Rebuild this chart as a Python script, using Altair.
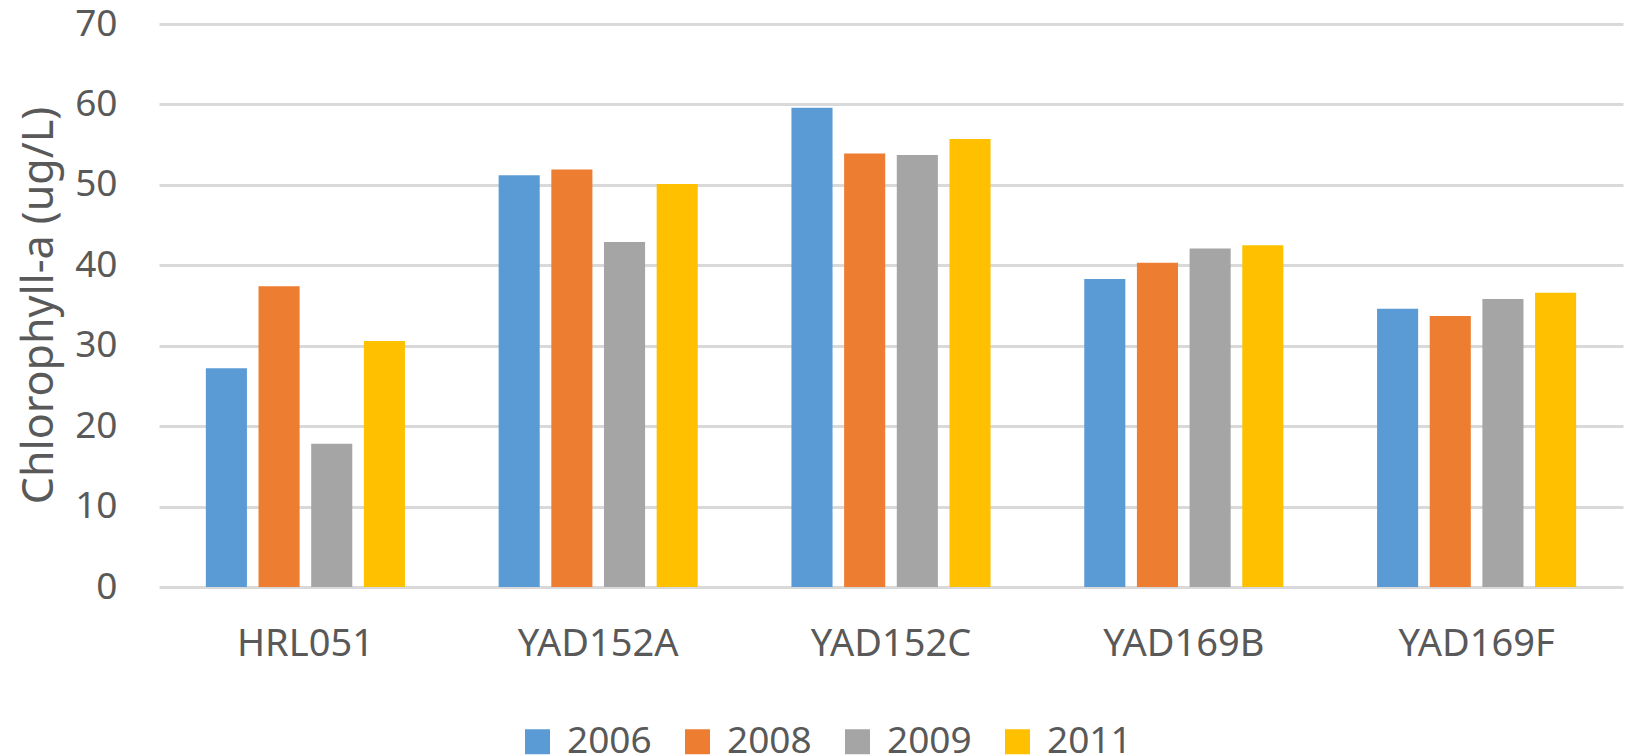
import altair as alt
import pandas as pd

sites = ["HRL051", "YAD152A", "YAD152C", "YAD169B", "YAD169F"]
years = ["2006", "2008", "2009", "2011"]
v2006 = [27.2, 51.2, 59.6, 38.3, 34.6]
v2008 = [37.4, 51.9, 53.9, 40.3, 33.7]
v2009 = [17.8, 42.9, 53.7, 42.1, 35.8]
v2011 = [30.6, 50.1, 55.7, 42.5, 36.6]
colors = ["#5B9BD5", "#ED7D31", "#A5A5A5", "#FFC000"]

rows = []
for yr, vals in zip(years, [v2006, v2008, v2009, v2011]):
    for s, v in zip(sites, vals):
        rows.append({"site": s, "year": yr, "value": v})
df = pd.DataFrame(rows)

FONT = "Noto Sans"
TXT = "#595959"

chart = alt.Chart(df).mark_bar().encode(
    x=alt.X("site:N", sort=sites, title=None,
            scale=alt.Scale(paddingInner=0.32, paddingOuter=0.16),
            axis=alt.Axis(labelAngle=0, labelFontSize=38, labelColor=TXT, labelFont=FONT,
                          domain=False, ticks=False, tickSize=0, labelPadding=38, grid=False)),
    xOffset=alt.XOffset("year:N", sort=years,
                        scale=alt.Scale(paddingInner=0.22, paddingOuter=0)),
    y=alt.Y("value:Q", title="Chlorophyll-a (ug/L)",
            scale=alt.Scale(domain=[0, 70]),
            axis=alt.Axis(values=[0, 10, 20, 30, 40, 50, 60, 70], labelFontSize=37,
                          labelColor=TXT, labelFont=FONT, labelPadding=42,
                          domain=False, ticks=False, tickSize=0,
                          gridColor="#D9D9D9", gridWidth=3,
                          titleFontSize=43, titleFont=FONT, titleColor=TXT,
                          titleFontWeight="normal", titleX=-107, titleY=281,
                          titleAngle=-90, titleBaseline="alphabetic", titleAlign="center")),
    color=alt.Color("year:N", sort=years,
                    scale=alt.Scale(domain=years, range=colors),
                    legend=alt.Legend(title=None, orient="none", direction="horizontal",
                                      legendX=360, legendY=699,
                                      symbolType="square", symbolSize=625,
                                      symbolStrokeWidth=0, labelFontSize=37,
                                      labelFont=FONT, labelColor=TXT, labelOffset=11,
                                      columnPadding=27)),
).properties(
    width=1464, height=563,
    autosize=alt.AutoSizeParams(type="none"),
    padding={"left": 151, "top": 16, "right": 13, "bottom": 168},
).configure_view(stroke=None).configure_axis(labelFont=FONT)

chart.save("out.html", embed_options={"renderer": "svg", "actions": False})
